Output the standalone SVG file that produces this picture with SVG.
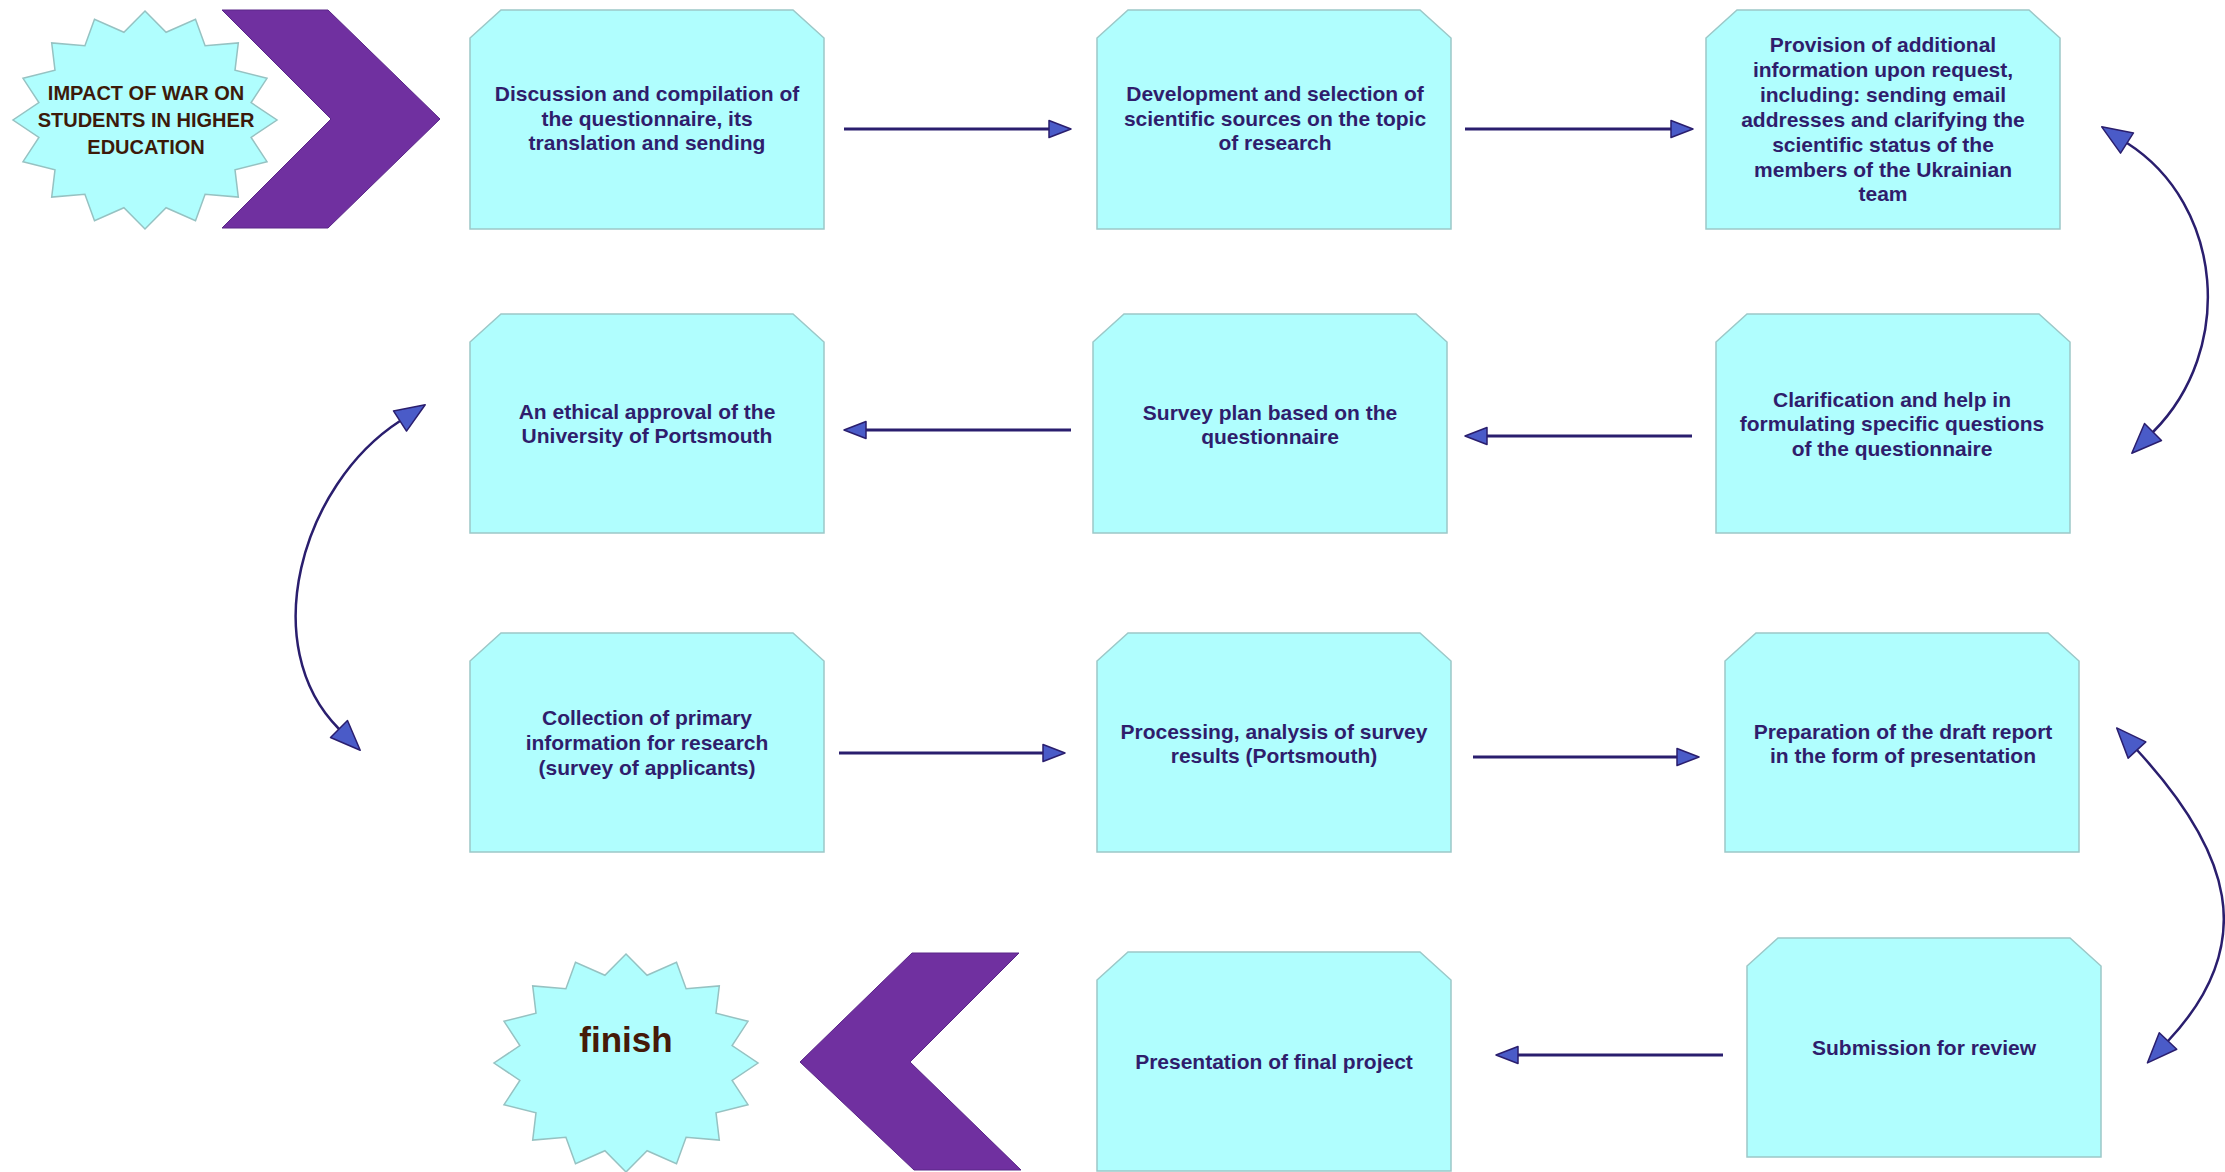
<svg xmlns="http://www.w3.org/2000/svg" xmlns:xlink="http://www.w3.org/1999/xlink" width="2225" height="1172" viewBox="0 0 2225 1172">
<style>
.box{fill:#B0FEFE;stroke:#9CC8C8;stroke-width:1.5}
.star{fill:#B0FEFE;stroke:#96C2C2;stroke-width:1.5}
.chev{fill:#7030A0;stroke:#5A2688;stroke-width:1}
.t{font-family:"Liberation Sans",Arial,sans-serif;font-weight:bold;font-size:21px;fill:#2F1D6C;text-anchor:middle}
.st{font-family:"Liberation Sans",Arial,sans-serif;font-weight:bold;font-size:20px;fill:#3C1A0A;text-anchor:middle}
.fin{font-family:"Liberation Sans",Arial,sans-serif;font-weight:bold;font-size:35px;fill:#451A08;text-anchor:middle}
.ln{fill:none;stroke:#2A1E6E;stroke-width:2.8}
.cv{fill:none;stroke:#2A1E6E;stroke-width:2.5}
.head{fill:#4A5BC8;stroke:#2A1E6E;stroke-width:1.5;stroke-linejoin:round}
</style>
<defs>
<path id="box" d="M0,28 L31,0 L323,0 L354,28 L354,219 L0,219 Z"/>
<polygon id="star16" points="0,-109 21.1,-87.7 50.5,-100.7 60.1,-74.3 93.3,-77.1 90,-49.7 122,-41.7 106.1,-17.4 132,0 106.1,17.4 122,41.7 90,49.7 93.3,77.1 60.1,74.3 50.5,100.7 21.1,87.7 0,109 -21.1,87.7 -50.5,100.7 -60.1,74.3 -93.3,77.1 -90,49.7 -122,41.7 -106.1,17.4 -132,0 -106.1,-17.4 -122,-41.7 -90,-49.7 -93.3,-77.1 -60.1,-74.3 -50.5,-100.7 -21.1,-87.7"/>
<marker id="ah" viewBox="-2 -11 26 22" refX="0" refY="0" markerWidth="26" markerHeight="22" markerUnits="userSpaceOnUse" orient="auto" overflow="visible">
<path class="head" d="M0,-8.5 L22,0 L0,8.5 Z"/>
</marker>
<marker id="ahc" viewBox="-2 -14 34 28" refX="0" refY="0" markerWidth="34" markerHeight="28" markerUnits="userSpaceOnUse" orient="auto-start-reverse" overflow="visible">
<path class="head" d="M0,-12 L30,0 L0,12 Z"/>
</marker>
</defs>
<rect width="2225" height="1172" fill="#FFFFFF"/>

<g id="start-star">
<use href="#star16" xlink:href="#star16" class="star" transform="translate(145,120)"/>
<text class="st"><tspan x="146" y="100">IMPACT OF WAR ON</tspan><tspan x="146" y="127">STUDENTS IN HIGHER</tspan><tspan x="146" y="154">EDUCATION</tspan></text>
</g>
<g id="chevron-start">
<polygon class="chev" points="222,10 328,10 440,119 328,228 222,228 331,119"/>
</g>

<g id="n1">
<use href="#box" xlink:href="#box" class="box" x="470" y="10"/>
<text class="t"><tspan x="647" y="101">Discussion and compilation of</tspan><tspan x="647" y="126">the questionnaire, its</tspan><tspan x="647" y="150">translation and sending</tspan></text>
</g>
<g id="n2">
<use href="#box" xlink:href="#box" class="box" x="1097" y="10"/>
<text class="t"><tspan x="1275" y="101">Development and selection of</tspan><tspan x="1275" y="126">scientific sources on the topic</tspan><tspan x="1275" y="150">of research</tspan></text>
</g>
<g id="n3">
<use href="#box" xlink:href="#box" class="box" x="1706" y="10"/>
<text class="t"><tspan x="1883" y="52">Provision of additional</tspan><tspan x="1883" y="77">information upon request,</tspan><tspan x="1883" y="102">including: sending email</tspan><tspan x="1883" y="127">addresses and clarifying the</tspan><tspan x="1883" y="152">scientific status of the</tspan><tspan x="1883" y="177">members of the Ukrainian</tspan><tspan x="1883" y="201">team</tspan></text>
</g>
<g id="n4">
<use href="#box" xlink:href="#box" class="box" x="470" y="314"/>
<text class="t"><tspan x="647" y="419">An ethical approval of the</tspan><tspan x="647" y="443">University of Portsmouth</tspan></text>
</g>
<g id="n5">
<use href="#box" xlink:href="#box" class="box" x="1093" y="314"/>
<text class="t"><tspan x="1270" y="420">Survey plan based on the</tspan><tspan x="1270" y="444">questionnaire</tspan></text>
</g>
<g id="n6">
<use href="#box" xlink:href="#box" class="box" x="1716" y="314"/>
<text class="t"><tspan x="1892" y="407">Clarification and help in</tspan><tspan x="1892" y="431">formulating specific questions</tspan><tspan x="1892" y="456">of the questionnaire</tspan></text>
</g>
<g id="n7">
<use href="#box" xlink:href="#box" class="box" x="470" y="633"/>
<text class="t"><tspan x="647" y="725">Collection of primary</tspan><tspan x="647" y="750">information for research</tspan><tspan x="647" y="775">(survey of applicants)</tspan></text>
</g>
<g id="n8">
<use href="#box" xlink:href="#box" class="box" x="1097" y="633"/>
<text class="t"><tspan x="1274" y="739">Processing, analysis of survey</tspan><tspan x="1274" y="763">results (Portsmouth)</tspan></text>
</g>
<g id="n9">
<use href="#box" xlink:href="#box" class="box" x="1725" y="633"/>
<text class="t"><tspan x="1903" y="739">Preparation of the draft report</tspan><tspan x="1903" y="763">in the form of presentation</tspan></text>
</g>
<g id="n10">
<use href="#box" xlink:href="#box" class="box" x="1097" y="952"/>
<text class="t" x="1274" y="1069">Presentation of final project</text>
</g>
<g id="n11">
<use href="#box" xlink:href="#box" class="box" x="1747" y="938"/>
<text class="t" x="1924" y="1055">Submission for review</text>
</g>

<g id="chevron-finish">
<polygon class="chev" points="800,1062 912,953 1019,953 910,1062 1021,1170 914,1170"/>
</g>
<g id="finish-star">
<use href="#star16" xlink:href="#star16" class="star" transform="translate(626,1063)"/>
<text class="fin" x="626" y="1052">finish</text>
</g>

<g id="connectors">
<path class="ln" d="M844,129 L1049,129" marker-end="url(#ah)"/>
<path class="ln" d="M1465,129 L1671,129" marker-end="url(#ah)"/>
<path class="ln" d="M1692,436 L1487,436" marker-end="url(#ah)"/>
<path class="ln" d="M1071,430 L866,430" marker-end="url(#ah)"/>
<path class="ln" d="M839,753 L1043,753" marker-end="url(#ah)"/>
<path class="ln" d="M1473,757 L1677,757" marker-end="url(#ah)"/>
<path class="ln" d="M1723,1055 L1518,1055" marker-end="url(#ah)"/>
<path class="cv" d="M2127,143 C2224,205 2235,350 2153,432" marker-start="url(#ahc)" marker-end="url(#ahc)"/>
<path class="cv" d="M400,421 C301,485 256,646 339,729" marker-start="url(#ahc)" marker-end="url(#ahc)"/>
<path class="cv" d="M2137,750 C2229,850 2261,942 2168,1041" marker-start="url(#ahc)" marker-end="url(#ahc)"/>
</g>
</svg>
